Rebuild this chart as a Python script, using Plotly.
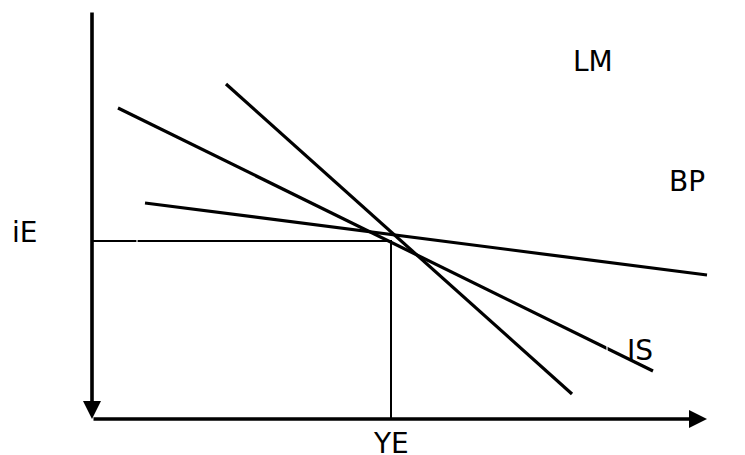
import plotly.graph_objects as go

# Chart data in diagram units (origin at the axes corner, y upward)
lm_x = [134, 480]
lm_y = [335, 25]
is_x = [26, 561]
is_y = [311, 48]
bp_x = [53, 615]
bp_y = [216, 144]
eq_y_val = 299   # YE
eq_i_val = 178   # iE
x_axis_end = 615
y_axis_top = 408

labels = ["LM", "BP", "IS", "iE", "YE"]
label_x = [501, 595, 548, -68, 299]
label_y = [358, 238, 69, 187, -24]

FONT = "DejaVu Sans"

fig = go.Figure()
for xs, ys in [(lm_x, lm_y), (is_x, is_y), (bp_x, bp_y)]:
    fig.add_trace(go.Scatter(x=xs, y=ys, mode="lines",
                             line=dict(color="black", width=3.2),
                             hoverinfo="skip", showlegend=False))

# guide lines to equilibrium
fig.add_trace(go.Scatter(x=[0, eq_y_val, eq_y_val], y=[eq_i_val, eq_i_val, 0],
                         mode="lines", line=dict(color="black", width=2),
                         hoverinfo="skip", showlegend=False))

# axes as arrows
fig.add_annotation(x=0, y=0, ax=0, ay=y_axis_top, xref="x", yref="y",
                   axref="x", ayref="y", showarrow=True, arrowhead=2,
                   arrowsize=1, arrowwidth=3.6, arrowcolor="black", text="",
                   standoff=0)
fig.add_annotation(x=x_axis_end, y=0, ax=0, ay=0, xref="x", yref="y",
                   axref="x", ayref="y", showarrow=True, arrowhead=2,
                   arrowsize=1, arrowwidth=3.6, arrowcolor="black", text="",
                   standoff=0)

# small white gaps seen in the original drawing
white = dict(color="white", width=1.2)
fig.add_shape(type="line", x0=-4, x1=4, y0=216, y1=216, line=white, layer="above")
fig.add_shape(type="line", x0=-4, x1=4, y0=125, y1=125, line=white, layer="above")
fig.add_shape(type="line", x0=45, x1=45, y0=175, y1=181, line=white, layer="above")
fig.add_shape(type="line", x0=248, x1=393, y0=-1.5, y1=-1.5, line=white, layer="above")
fig.add_shape(type="line", x0=515, x1=515, y0=68, y1=75, line=white, layer="above")

for t, x, y in zip(labels, label_x, label_y):
    fig.add_annotation(x=x, y=y, xref="x", yref="y", text=t, showarrow=False,
                       font=dict(family=FONT, size=28, color="black"),
                       xanchor="center", yanchor="middle")

# page body has an 8px margin; the figure is sized/offset to compensate
fig.update_layout(
    width=737, height=447,
    margin=dict(l=0, r=0, t=0, b=0),
    paper_bgcolor="white", plot_bgcolor="white",
    xaxis=dict(range=[-84, 653], visible=False, fixedrange=True),
    yaxis=dict(range=[-36, 411], visible=False, fixedrange=True),
)

fig.write_html("out.html")
